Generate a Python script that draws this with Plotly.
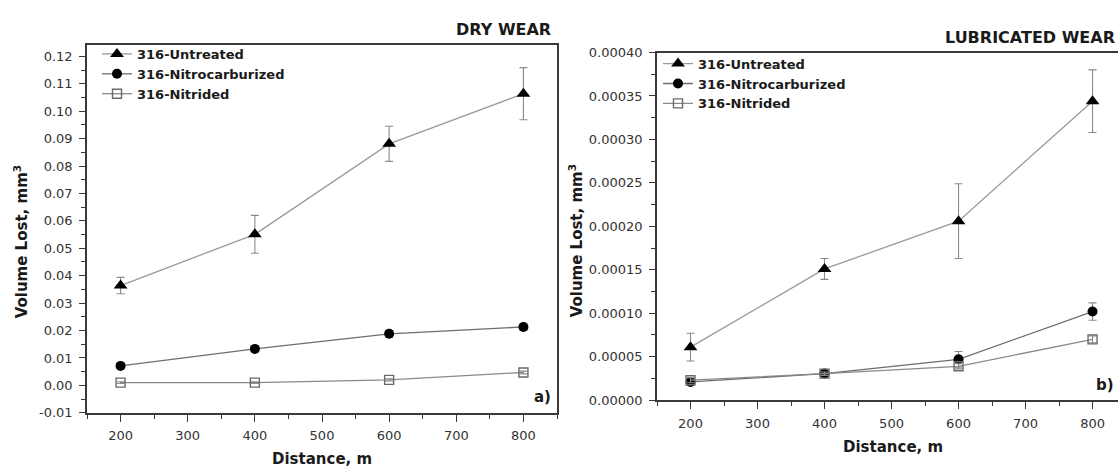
import plotly.graph_objects as go

# ---------------- data ----------------
distance = [200, 400, 600, 800]
series_names = ["316-Untreated", "316-Nitrocarburized", "316-Nitrided"]

dry_untreated = [0.0364, 0.0551, 0.0881, 0.1064]
dry_untreated_err = [0.0030, 0.0069, 0.0064, 0.0095]
dry_nitrocarb = [0.0071, 0.0133, 0.0188, 0.0213]
dry_nitrocarb_err = [0.0008, 0.0006, 0.0012, 0.0012]
dry_nitrided = [0.0010, 0.0010, 0.0020, 0.0047]
dry_nitrided_err = [0.0003, 0.0003, 0.0004, 0.0005]

lub_untreated = [0.000061, 0.000151, 0.000206, 0.000344]
lub_untreated_err = [0.000016, 0.000012, 0.000043, 0.000036]
lub_nitrocarb = [0.000021, 0.0000306, 0.000047, 0.000102]
lub_nitrocarb_err = [0.000002, 0.000002, 0.000009, 0.000010]
lub_nitrided = [0.000023, 0.0000305, 0.000039, 0.000070]
lub_nitrided_err = [0.000003, 0.000002, 0.000003, 0.000004]

x_tickvals = [200, 300, 400, 500, 600, 700, 800]
x_ticktext = ["200", "300", "400", "500", "600", "700", "800"]
dry_tickvals = [-0.01, 0.0, 0.01, 0.02, 0.03, 0.04, 0.05, 0.06, 0.07, 0.08, 0.09, 0.10, 0.11, 0.12]
dry_ticktext = ["-0.01", "0.00", "0.01", "0.02", "0.03", "0.04", "0.05", "0.06",
                "0.07", "0.08", "0.09", "0.10", "0.11", "0.12"]
lub_tickvals = [0.0, 0.00005, 0.0001, 0.00015, 0.0002, 0.00025, 0.0003, 0.00035, 0.0004]
lub_ticktext = ["0.00000", "0.00005", "0.00010", "0.00015", "0.00020",
                "0.00025", "0.00030", "0.00035", "0.00040"]

W, H = 1118, 475
FONT = "DejaVu Sans"
AX = "#3a3a3a"
TXT = "#1a1a1a"

styles = [
    dict(line=dict(color="#9a9a9a", width=1.3),
         marker=dict(symbol="triangle-up", size=12, color="#000000")),
    dict(line=dict(color="#6e6e6e", width=1.3),
         marker=dict(symbol="circle", size=10, color="#000000")),
    dict(line=dict(color="#8a8a8a", width=1.3),
         marker=dict(symbol="square-open", size=9, color="#6a6a6a", line=dict(width=1.4))),
]

fig = go.Figure()

panels = [
    ("x", "y", "legend", [dry_untreated, dry_nitrocarb, dry_nitrided],
     [dry_untreated_err, dry_nitrocarb_err, dry_nitrided_err]),
    ("x2", "y2", "legend2", [lub_untreated, lub_nitrocarb, lub_nitrided],
     [lub_untreated_err, lub_nitrocarb_err, lub_nitrided_err]),
]
for xa, ya, lg, vals, errs in panels:
    for name, v, e, st in zip(series_names, vals, errs, styles):
        fig.add_trace(go.Scatter(
            x=distance, y=v, name=name, mode="lines+markers",
            xaxis=xa, yaxis=ya, legend=lg,
            line=st["line"], marker=st["marker"],
            error_y=dict(type="data", array=e, visible=True,
                         color="#8a8a8a", thickness=1.1, width=4),
        ))

def px_x(p):
    return p / W

def px_y(p):
    return 1 - p / H

tickfont = dict(family=FONT, size=13, color="#333333")
common_x = dict(
    tickmode="array", tickvals=x_tickvals, ticktext=x_ticktext,
    ticks="outside", ticklen=7, tickwidth=1.3, tickcolor=AX,
    showline=True, linecolor=AX, linewidth=1.6, showgrid=False, zeroline=False,
    tickfont=tickfont, ticklabelstandoff=3,
    minor=dict(tickmode="linear", tick0=150, dtick=100, ticks="outside", ticklen=4,
               tickwidth=1.1, tickcolor=AX, showgrid=False),
)
common_y = dict(
    tickmode="array", ticks="outside", ticklen=6, tickwidth=1.3, tickcolor=AX,
    showline=True, linecolor=AX, linewidth=1.6, showgrid=False, zeroline=False,
    tickfont=tickfont, ticklabelstandoff=4,
)

fig.update_layout(
    width=W, height=H,
    margin=dict(l=0, r=0, t=0, b=0),
    paper_bgcolor="white", plot_bgcolor="white",
    showlegend=True,
    xaxis=dict(common_x, domain=[px_x(87), px_x(557)], range=[150, 850], anchor="y", mirror=True),
    yaxis=dict(common_y, domain=[px_y(419), px_y(39)], range=[-0.01, 0.12424], anchor="x",
               tickvals=dry_tickvals, ticktext=dry_ticktext, mirror=True,
               minor=dict(tickmode="linear", tick0=-0.005, dtick=0.01, ticks="outside",
                          ticklen=4, tickwidth=1.1, tickcolor=AX, showgrid=False)),
    xaxis2=dict(common_x, domain=[px_x(657), 1.0], range=[150, 838], anchor="y2", mirror=True),
    yaxis2=dict(common_y, domain=[px_y(406), px_y(47)], range=[0, 0.0004], anchor="x2",
                tickvals=lub_tickvals, ticktext=lub_ticktext, mirror=False,
                minor=dict(tickmode="linear", tick0=0.000025, dtick=0.00005, ticks="outside",
                           ticklen=4, tickwidth=1.1, tickcolor=AX, showgrid=False)),
    legend=dict(x=px_x(97), y=px_y(33), xanchor="left", yanchor="top",
                bgcolor="rgba(0,0,0,0)", borderwidth=0,
                font=dict(family=FONT, size=13, color=TXT, weight="bold"),
                tracegroupgap=0),
    legend2=dict(x=px_x(658), y=px_y(43), xanchor="left", yanchor="top",
                 bgcolor="rgba(0,0,0,0)", borderwidth=0,
                 font=dict(family=FONT, size=13, color=TXT, weight="bold"),
                 tracegroupgap=0),
)

ann_font = dict(family=FONT, size=15, color=TXT, weight="bold")
annotations = [
    dict(text="DRY WEAR", x=px_x(553), y=px_y(23), xanchor="right", yanchor="middle",
         font=dict(family=FONT, size=16, color=TXT, weight="bold")),
    dict(text="LUBRICATED WEAR", x=px_x(1117), y=px_y(31), xanchor="right", yanchor="middle",
         font=dict(family=FONT, size=16, color=TXT, weight="bold")),
    dict(text="a)", x=px_x(553), y=px_y(403), xanchor="right", yanchor="middle", font=ann_font),
    dict(text="b)", x=px_x(1116), y=px_y(390), xanchor="right", yanchor="middle", font=ann_font),
    dict(text="Distance, m", x=px_x(322), y=px_y(467), xanchor="center", yanchor="middle", font=ann_font),
    dict(text="Distance, m", x=px_x(893), y=px_y(454), xanchor="center", yanchor="middle", font=ann_font),
    dict(text="Volume Lost, mm<sup>3</sup>", x=px_x(21), y=px_y(243), xanchor="center",
         yanchor="middle", textangle=-90, font=ann_font),
    dict(text="Volume Lost, mm<sup>3</sup>", x=px_x(576), y=px_y(242), xanchor="center",
         yanchor="middle", textangle=-90, font=ann_font),
]
for a in annotations:
    fig.add_annotation(xref="paper", yref="paper", showarrow=False, **a)

fig.write_html("out.html")
